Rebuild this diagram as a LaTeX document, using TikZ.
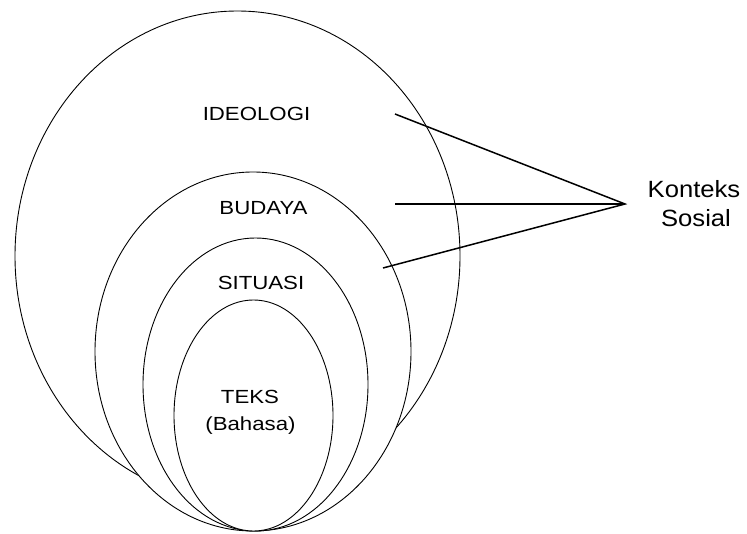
\documentclass[tikz,border=0pt]{standalone}
\usepackage{fontspec}
\usepackage{graphicx}
\setmainfont{Liberation Sans}
\usetikzlibrary{shapes.geometric}
\newcommand{\wideA}[1]{\scalebox{1.17}[1]{#1}}
\newcommand{\wideB}[1]{\scalebox{1.09}[1]{#1}}
\begin{document}
\begin{tikzpicture}[x=1pt,y=-1pt,
  ring/.style={ellipse,draw=black,fill=white,line width=0.9pt,inner sep=0pt},
  lbl/.style={anchor=base,inner sep=0pt,font=\fontsize{19}{23}\selectfont},
  biglbl/.style={anchor=base,inner sep=0pt,font=\fontsize{23.5}{28}\selectfont},
  conn/.style={line width=1.5pt}]
\useasboundingbox (0,0) rectangle (747,534);
\node[ring,minimum width=445pt,minimum height=490pt] (ideo) at (237.5,256) {};
\node[ring,minimum width=316pt,minimum height=359pt] (bud) at (253,351.5) {};
\node[ring,minimum width=225pt,minimum height=293pt] (sit) at (255.5,384.5) {};
\node[ring,minimum width=159pt,minimum height=231pt] (teks) at (253.5,415.5) {};
\node[lbl] (tideo) at (256.5,121) {\wideA{IDEOLOGI}};
\node[lbl] (tbud) at (263.5,215) {\wideA{BUDAYA}};
\node[lbl] (tsit) at (261,290) {\wideA{SITUASI}};
\node[lbl] (tteks) at (250,403) {\wideA{TEKS}};
\node[lbl] (tbah) at (250.5,430) {\wideA{(Bahasa)}};
\node[biglbl] (tkon) at (694,198) {\wideB{Konteks}};
\node[biglbl] (tsos) at (696,227) {\wideB{Sosial}};
\coordinate (apex) at (625,204);
\coordinate (e1) at (395,114);
\coordinate (e2) at (395,204);
\coordinate (e3) at (383,268);
\draw[conn] (e1) -- (apex) -- (e3);
\draw[conn] (e2) -- (apex);
\end{tikzpicture}
\end{document}
